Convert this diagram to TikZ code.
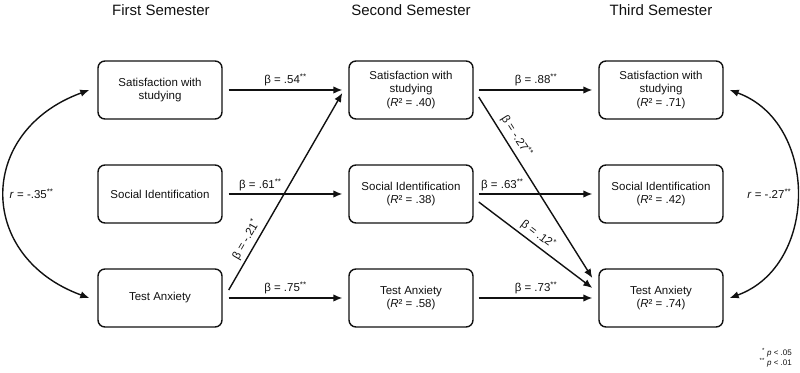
\documentclass[tikz,border=0pt]{standalone}
\usepackage{fontspec}
\setmainfont{Liberation Sans}
\usetikzlibrary{arrows.meta}
\definecolor{Ink}{HTML}{111111}

\begin{document}
\begin{tikzpicture}[
  x=1pt,y=1pt,
  measure/.style={
    draw=Ink,
    line width=1.4pt,
    rounded corners=7pt,
    minimum width=124pt,
    minimum height=58pt,
    inner sep=0pt,
    align=center,
    text=Ink,
    font=\fontsize{11.5}{13.5}\selectfont
  },
  semester/.style={
    text=Ink,
    font=\fontsize{15}{18}\selectfont
  },
  link/.style={
    draw=Ink,
    line width=1.4pt,
    -{Latex[length=9pt,width=7.5pt]}
  },
  coef/.style={
    inner sep=1.5pt,
    text=Ink,
    font=\fontsize{11.5}{13.5}\selectfont
  }
]

  \useasboundingbox (0,0) rectangle (800,372);

  \node[semester] (FirstHead) at (161,362) {First Semester};
  \node[semester] (SecondHead) at (411,362) {Second Semester};
  \node[semester] (ThirdHead) at (661,362) {Third Semester};

  \node[measure] (Sat1) at (160,282) {Satisfaction with\\studying};
  \node[measure] (Soc1) at (160,178) {Social Identification};
  \node[measure] (Anx1) at (160,74) {Test Anxiety};

  \node[measure] (Sat2) at (411,282)
    {Satisfaction with\\studying\\(\textit{R}² = .40)};
  \node[measure] (Soc2) at (411,178)
    {Social Identification\\(\textit{R}² = .38)};
  \node[measure] (Anx2) at (411,74)
    {Test Anxiety\\(\textit{R}² = .58)};

  \node[measure] (Sat3) at (661,282)
    {Satisfaction with\\studying\\(\textit{R}² = .71)};
  \node[measure] (Soc3) at (661,178)
    {Social Identification\\(\textit{R}² = .42)};
  \node[measure] (Anx3) at (661,74)
    {Test Anxiety\\(\textit{R}² = .74)};

  \draw[link,shorten <=6pt,shorten >=6pt] (Sat1.east) -- (Sat2.west)
    node[coef,midway,above=2pt] {β = .54\textsuperscript{**}};
  \draw[link,shorten <=6pt,shorten >=6pt] (Soc1.east) -- (Soc2.west)
    node[coef,pos=0.3,above=1pt] {β = .61\textsuperscript{**}};
  \draw[link,shorten <=6pt,shorten >=6pt] (Anx1.east) -- (Anx2.west)
    node[coef,midway,above=2pt] {β = .75\textsuperscript{**}};
  \draw[link] ([xshift=6pt,yshift=8pt]Anx1.east)
    -- ([xshift=-6pt,yshift=-3pt]Sat2.west)
    node[coef,pos=0.23,sloped,above=2pt] {β = -.21\textsuperscript{*}};

  \draw[link,shorten <=5pt,shorten >=6pt] (Sat2.east) -- (Sat3.west)
    node[coef,midway,above=2pt] {β = .88\textsuperscript{**}};
  \draw[link,shorten <=5pt,shorten >=6pt] (Soc2.east) -- (Soc3.west)
    node[coef,pos=0.23,above=1pt] {β = .63\textsuperscript{**}};
  \draw[link,shorten <=5pt,shorten >=6pt] (Anx2.east) -- (Anx3.west)
    node[coef,midway,above=2pt] {β = .73\textsuperscript{**}};
  \draw[link] ([xshift=5pt,yshift=-7pt]Sat2.east)
    -- ([xshift=-6pt,yshift=20pt]Anx3.west)
    node[coef,pos=0.25,sloped,above=3pt] {β = -.27\textsuperscript{**}};
  \draw[link] ([xshift=5pt,yshift=-8pt]Soc2.east)
    -- ([xshift=-6pt,yshift=10pt]Anx3.west)
    node[coef,pos=0.47,sloped,above=2pt] {β = .12\textsuperscript{*}};

  \draw[link,{Latex[length=9pt,width=7.5pt]}-{Latex[length=9pt,width=7.5pt]}]
    ([xshift=-8pt]Sat1.west) to[out=200,in=160,looseness=1.48]
    ([xshift=-8pt]Anx1.west);
  \node[coef,anchor=west] (LeftCorr) at (8,178)
    {\textit{r} = -.35\textsuperscript{**}};

  \draw[link,{Latex[length=9pt,width=7.5pt]}-{Latex[length=9pt,width=7.5pt]}]
    ([xshift=6pt]Sat3.east) to[out=-20,in=20,looseness=1.17]
    ([xshift=6pt]Anx3.east);
  \node[coef,anchor=east] (RightCorr) at (793,178)
    {\textit{r} = -.27\textsuperscript{**}};

  \node[
    anchor=east,
    align=right,
    inner sep=0pt,
    text=Ink,
    font=\fontsize{8}{10}\selectfont
  ] (Legend) at (792,14)
    {\textsuperscript{*} \textit{p} < .05\\\textsuperscript{**} \textit{p} < .01};

\end{tikzpicture}
\end{document}
